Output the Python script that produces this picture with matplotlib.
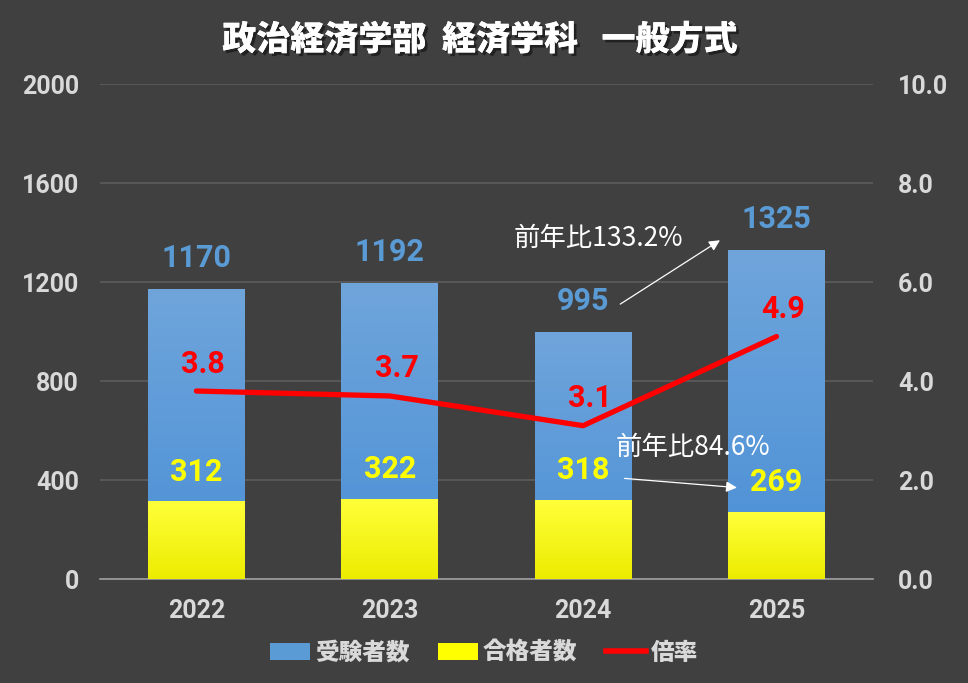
import matplotlib
matplotlib.use('Agg')
import matplotlib.pyplot as plt
import matplotlib.patheffects as pe
from matplotlib import font_manager
from matplotlib.patches import Patch
from matplotlib.lines import Line2D
import numpy as np

# データ
years = ['2022', '2023', '2024', '2025']
applicants = [1170, 1192, 995, 1325]   # 受験者数
passers = [312, 322, 318, 269]         # 合格者数
ratio = [3.8, 3.7, 3.1, 4.9]           # 倍率
notes = ['前年比133.2%', '前年比84.6%']

plt.rcParams['font.family'] = ['Noto Sans CJK JP', 'DejaVu Sans']
installed = {f.name for f in font_manager.fontManager.ttflist}
num_font = ['Liberation Sans Narrow'] if 'Liberation Sans Narrow' in installed else ['Roboto', 'DejaVu Sans']

bg = '#404040'
tick_c = '#d9d9d9'

fig = plt.figure(figsize=(9.68, 6.83), dpi=100, facecolor=bg)
ax = fig.add_axes([0.103, 0.152, 0.799, 0.725], facecolor=bg)
x = np.arange(len(years))

def gradient_bars(vals, top_c, bot_c, z):
    bars = ax.bar(x, vals, width=0.5, color='none', zorder=z)
    grad = np.linspace(0, 1, 256).reshape(-1, 1)
    cmap = matplotlib.colors.LinearSegmentedColormap.from_list('g', [bot_c, top_c])
    for b in bars:
        ax.imshow(grad, extent=[b.get_x(), b.get_x() + b.get_width(), 0, b.get_height()],
                  origin='lower', aspect='auto', cmap=cmap, zorder=z)
    return bars

gradient_bars(applicants, '#6fa5db', '#4a8fd6', 2)
gradient_bars(passers, '#ffff3a', '#ecec00', 3)

ax.set_xlim(-0.5, len(years) - 0.5)
ax.set_ylim(0, 2000)
ax.set_yticks(range(0, 2001, 400))
ax.yaxis.grid(True, color='#5c5c5c', linewidth=1.2)
ax.set_axisbelow(True)
for s in ['top', 'right', 'left']:
    ax.spines[s].set_visible(False)
ax.spines['bottom'].set_color('#a0a0a0')
ax.spines['bottom'].set_linewidth(1.2)
ax.tick_params(length=0)
ax.tick_params(axis='x', pad=14)
ax.tick_params(axis='y', pad=15)
ax.set_xticks(x)
ax.set_xticklabels(years)
for lab in ax.get_xticklabels() + ax.get_yticklabels():
    lab.set_family(num_font)
    lab.set_fontsize(18)
    lab.set_fontweight('bold')
    lab.set_color(tick_c)

# 倍率（右軸）
ax2 = ax.twinx()
ax2.set_ylim(0, 10)
ax2.set_yticks(np.arange(0, 10.1, 2))
ax2.set_yticklabels([f'{v:.1f}' for v in np.arange(0, 10.1, 2)])
for s in ax2.spines.values():
    s.set_visible(False)
ax2.tick_params(length=0, pad=18)
for lab in ax2.get_yticklabels():
    lab.set_family(num_font)
    lab.set_fontsize(18)
    lab.set_fontweight('bold')
    lab.set_color(tick_c)
ax2.plot(x, ratio, color='#ff0000', linewidth=3.8, solid_capstyle='round', zorder=5)

# データラベル
lab_kw = dict(textcoords='offset points', ha='center', va='bottom',
              family=num_font, fontsize=22, fontweight='bold', zorder=6)
for i in x:
    ax.annotate(str(applicants[i]), (x[i], applicants[i]), xytext=(0, 12),
                color='#5b9bd5', **lab_kw)
    ax.annotate(str(passers[i]), (x[i], passers[i]), xytext=(0, 11),
                color='#ffff00', **lab_kw)
    ax2.annotate(f'{ratio[i]:.1f}', (x[i], ratio[i]), xytext=(5, 9),
                 color='#ff0000', **lab_kw)

# 前年比の注記
ax.annotate('', xy=(x[3] - 0.28, applicants[3] + 50), xytext=(x[2] + 0.18, applicants[2] + 110),
            arrowprops=dict(arrowstyle='-|>', color='white', lw=0.9, mutation_scale=16), zorder=8)
ax.text(x[1] + 0.64, applicants[3] + 50, notes[0], color='white', fontsize=19,
        ha='left', va='center', zorder=8)
ax.annotate('', xy=(x[3] - 0.19, passers[3] + 100), xytext=(x[2] + 0.2, passers[2] + 90),
            arrowprops=dict(arrowstyle='-|>', color='white', lw=0.9, mutation_scale=16), zorder=8)
ax.text(x[2] + 0.17, passers[3] + 265, notes[1], color='white', fontsize=19,
        ha='left', va='center', zorder=8)

# タイトル
fig.text(0.4955, 0.942, '政治経済学部  経済学科   一般方式', ha='center', va='center',
         fontsize=24.5, fontweight='black', color='white',
         path_effects=[pe.withSimplePatchShadow(offset=(2, -2), shadow_rgbFace='#1a1a1a', alpha=0.8),
                       pe.Normal()])

# 凡例
handles = [Patch(facecolor='#5b9bd5', label='受験者数'),
           Patch(facecolor='#ffff00', label='合格者数'),
           Line2D([0], [0], color='#ff0000', linewidth=4, label='倍率')]
leg = fig.legend(handles=handles, loc='center', bbox_to_anchor=(0.5, 0.045), ncol=3,
                 frameon=False, handlelength=1.7, handletextpad=0.2, columnspacing=1.2,
                 prop={'size': 17, 'weight': 'black'})
for t in leg.get_texts():
    t.set_color(tick_c)

fig.savefig('out.png', dpi=100, facecolor=bg)
